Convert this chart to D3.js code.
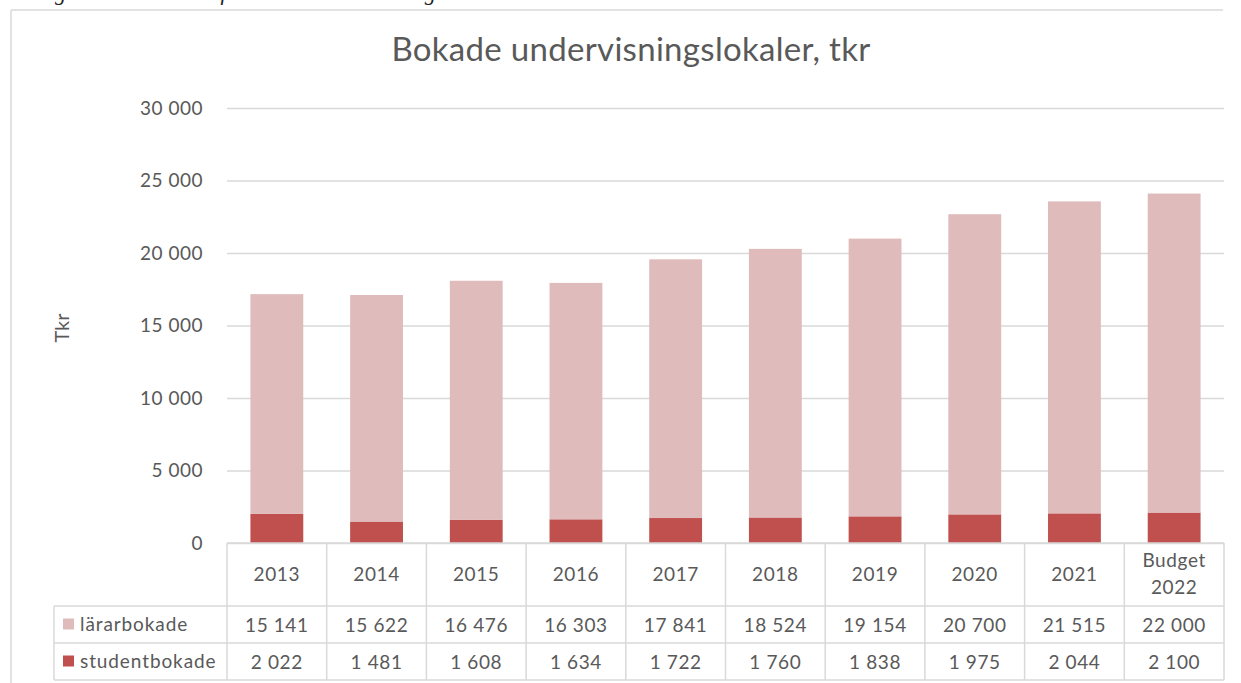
<!DOCTYPE html>
<html>
<head>
<meta charset="utf-8">
<script src="https://cdn.jsdelivr.net/npm/d3@7"></script>
<style>
  body { margin: 0; background: #fff; }
  text { font-family: Lato, "Open Sans", sans-serif; fill: #595959; }
</style>
</head>
<body>
<svg id="chart" width="1241" height="683"></svg>
<script>
// data
let years = ["2013", "2014", "2015", "2016", "2017", "2018", "2019", "2020", "2021", "Budget 2022"];
let lararbokade = [15141, 15622, 16476, 16303, 17841, 18524, 19154, 20700, 21515, 22000];
let studentbokade = [2022, 1481, 1608, 1634, 1722, 1760, 1838, 1975, 2044, 2100];
let yTicks = [0, 5000, 10000, 15000, 20000, 25000, 30000];
let seriesNames = ["lärarbokade", "studentbokade"];
let seriesColors = ["#dfbbbc", "#c0504d"];

function drawChart() {
    let canvas = d3.select("#chart");

    let left = 227;
    let right = 1224;
    let top = 108;
    let bottom = 543;
    let gridColor = "#d9d9d9";

    let fmt = d => d3.format(",")(d).replace(/,/g, " ");

    // caption above the chart frame, cut off at the top of the page
    canvas.append("text")
        .attr("x", 22)
        .attr("y", 0)
        .style("font-family", "'Liberation Serif', serif")
        .style("font-style", "italic")
        .style("fill", "#222")
        .attr("font-size", 22)
        .text("Diagram 4 Kostnader för bokade undervisningslokaler 2013–2022");

    // frame
    canvas.append("line")
        .attr("x1", 11).attr("x2", 1223).attr("y1", 10).attr("y2", 10)
        .attr("stroke", gridColor).attr("stroke-width", 1.5);
    canvas.append("line")
        .attr("x1", 11).attr("x2", 11).attr("y1", 10).attr("y2", 683)
        .attr("stroke", gridColor).attr("stroke-width", 1.5);

    let x = d3.scaleBand()
        .domain(years)
        .range([left, right])
        .paddingInner(0.47)
        .paddingOuter(0.235);
    let y = d3.scaleLinear()
        .domain([0, 30000])
        .range([bottom, top]);

    let yAxis = d3.axisLeft(y)
        .tickValues(yTicks)
        .tickSize(-(right - left))
        .tickFormat(fmt);

    let yg = canvas.append("g")
        .attr("transform", "translate(" + left + ",0)")
        .call(yAxis);
    yg.select(".domain").remove();
    yg.selectAll(".tick line").attr("stroke", gridColor).attr("stroke-width", 1.5);
    yg.selectAll(".tick text")
        .attr("font-size", 19)
        .style("fill", "#595959")
        .style("letter-spacing", "0.5px")
        .attr("x", -24);

    // stacked bars
    let rows = years.map((yr, i) => ({ year: yr, studentbokade: studentbokade[i], lararbokade: lararbokade[i] }));
    let stack = d3.stack().keys(["studentbokade", "lararbokade"]);
    let layers = stack(rows);
    let colorByKey = { studentbokade: seriesColors[1], lararbokade: seriesColors[0] };

    canvas.selectAll("g.layer")
        .data(layers)
        .enter()
        .append("g")
        .attr("class", "layer")
        .attr("fill", d => colorByKey[d.key])
        .selectAll("rect")
        .data(d => d)
        .enter()
        .append("rect")
        .attr("x", d => x(d.data.year))
        .attr("width", x.bandwidth())
        .attr("y", d => y(d[1]))
        .attr("height", d => y(d[0]) - y(d[1]));

    // title
    canvas.append("text")
        .attr("text-anchor", "middle")
        .attr("x", 631)
        .attr("y", 61)
        .attr("font-size", 33)
        .style("letter-spacing", "0.3px")
        .text("Bokade undervisningslokaler, tkr");

    // y label
    canvas.append("text")
        .attr("text-anchor", "middle")
        .attr("transform", "translate(69,328) rotate(-90)")
        .attr("font-size", 20)
        .text("Tkr");

    // data table
    let rowTops = [543, 606, 643, 680];
    let legendLeft = 54;
    let colEdges = years.map(yr => x(yr) - x.step() * x.paddingInner() / 2);
    colEdges.push(right);
    colEdges[0] = left;

    let table = canvas.append("g").attr("stroke", gridColor).attr("stroke-width", 1.5);
    table.append("line").attr("x1", left).attr("x2", right).attr("y1", rowTops[0]).attr("y2", rowTops[0]);
    rowTops.slice(1).forEach(ty => {
        table.append("line").attr("x1", legendLeft).attr("x2", right).attr("y1", ty).attr("y2", ty);
    });
    colEdges.forEach(cx => {
        table.append("line").attr("x1", cx).attr("x2", cx).attr("y1", rowTops[0]).attr("y2", rowTops[3]);
    });
    table.append("line").attr("x1", legendLeft).attr("x2", legendLeft).attr("y1", rowTops[1]).attr("y2", rowTops[3]);

    // header (categories)
    years.forEach(yr => {
        let cx = x(yr) + x.bandwidth() / 2;
        let parts = yr.split(" ");
        let t = canvas.append("text")
            .attr("text-anchor", "middle")
            .attr("font-size", 19)
            .style("letter-spacing", "0.6px");
        if (parts.length == 1) {
            t.attr("x", cx).attr("y", 581).text(yr);
        } else {
            parts.forEach((p, j) => {
                t.append("tspan").attr("x", cx).attr("y", 567 + j * 27).text(p);
            });
        }
    });

    // value rows
    let seriesValues = [lararbokade, studentbokade];
    seriesValues.forEach((vals, r) => {
        let midY = (rowTops[r + 1] + rowTops[r + 2]) / 2;
        canvas.append("rect")
            .attr("x", 63)
            .attr("y", midY - 6)
            .attr("width", 11)
            .attr("height", 11)
            .attr("fill", seriesColors[r]);
        canvas.append("text")
            .attr("x", 80)
            .attr("y", midY + 6)
            .attr("font-size", 19)
            .style("letter-spacing", "0.9px")
            .text(seriesNames[r]);
        vals.forEach((v, i) => {
            canvas.append("text")
                .attr("text-anchor", "middle")
                .attr("x", x(years[i]) + x.bandwidth() / 2)
                .attr("y", midY + 7)
                .attr("font-size", 19)
                .style("letter-spacing", "0.6px")
                .text(fmt(v));
        });
    });
}

drawChart();
</script>
</body>
</html>
